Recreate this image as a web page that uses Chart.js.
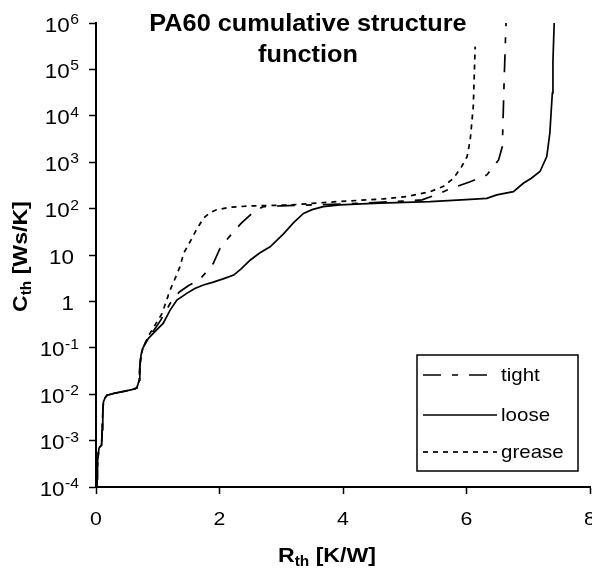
<!DOCTYPE html>
<html><head><meta charset="utf-8">
<script src="https://cdn.jsdelivr.net/npm/chart.js@4.4.0/dist/chart.umd.min.js"></script>
<style>html,body{margin:0;padding:0;background:#fff}#wrap{width:592px;height:569px;position:relative}</style>
</head><body><div id="wrap"><canvas id="c"></canvas></div>
<script>
const titleLines = ['PA60 cumulative structure', 'function'];
const xTitle = ['R', 'th', ' [K/W]'];
const yTitle = ['C', 'th', ' [Ws/K]'];
const xTickValues = [0, 2, 4, 6, 8];
const xTickLabels = ['0', '2', '4', '6', '8'];
const yTickValues = [1e-4, 1e-3, 1e-2, 1e-1, 1, 10, 100, 1e3, 1e4, 1e5, 1e6];
const yTickLabels = ['10^-4', '10^-3', '10^-2', '10^-1', '1', '10', '10^2', '10^3', '10^4', '10^5', '10^6'];
const seriesNames = ['tight', 'loose', 'grease'];

const tightR = [0.01,0.02,0.02,0.03,0.04,0.05,0.09,0.10,0.11,0.12,0.15,0.18,0.30,0.45,0.58,0.66,0.70,0.71,0.73,0.76,0.85,0.95,1.05,1.20,1.35,1.50,1.60,1.69,1.80,1.90,2.01,2.10,2.23,2.35,2.50,2.60,2.71,3.00,3.50,4.00,4.50,5.00,5.28,5.42,5.57,5.73,6.06,6.33,6.52,6.58,6.61,6.64];
const tightC = [1e-4,1.5e-4,2.5e-4,3.5e-4,5.6e-4,7e-4,8e-4,1.7e-3,4e-3,6.8e-3,8.5e-3,9.5e-3,0.0105,0.0115,0.0125,0.0135,0.02,0.04,0.07,0.1,0.17,0.25,0.4,0.9,1.6,2.2,2.6,3.1,4.5,6.6,14,20,32,48,73,94,110,115,120,125,135,145,154,180,215,265,380,532,1120,2170,6e4,1e6];

const looseR = [0.01,0.02,0.02,0.03,0.04,0.05,0.09,0.10,0.11,0.12,0.15,0.18,0.30,0.45,0.58,0.66,0.70,0.71,0.73,0.76,0.85,0.95,1.09,1.20,1.31,1.47,1.60,1.74,1.90,2.07,2.23,2.35,2.50,2.65,2.82,3.04,3.20,3.36,3.50,3.68,3.95,4.30,4.60,5.00,5.41,5.92,6.33,6.49,6.76,6.92,7.05,7.19,7.30,7.35,7.39,7.40,7.42];
const looseC = [1e-4,1.5e-4,2.5e-4,3.5e-4,5.6e-4,7e-4,8e-4,1.7e-3,4e-3,6.8e-3,8.5e-3,9.5e-3,0.0105,0.0115,0.0125,0.0135,0.02,0.04,0.07,0.1,0.16,0.22,0.34,0.65,1.07,1.49,1.9,2.25,2.6,3.1,3.7,5,7.8,11,15,29,50,79,95,110,120,126,131,136,141,154,166,197,232,352,450,630,1320,4300,31000,150000,1e6];

const greaseR = [0.01,0.02,0.02,0.03,0.04,0.05,0.09,0.10,0.11,0.12,0.15,0.18,0.30,0.45,0.58,0.66,0.70,0.71,0.73,0.76,0.85,0.95,1.07,1.20,1.28,1.36,1.42,1.53,1.61,1.74,1.84,1.95,2.17,2.50,3.14,3.90,4.65,5.03,5.41,5.62,5.79,5.92,6.01,6.06,6.11,6.14];
const greaseC = [1e-4,1.5e-4,2.5e-4,3.5e-4,5.6e-4,7e-4,8e-4,1.7e-3,4e-3,6.8e-3,8.5e-3,9.5e-3,0.0105,0.0115,0.0125,0.0135,0.02,0.04,0.07,0.1,0.18,0.3,0.55,1.76,3.1,5.6,10.9,20,32,62,80,94,107,114,120,141,162,181,232,298,450,800,1320,3000,16000,310000];

const FAM = "'Liberation Sans', Arial, sans-serif";
function pts(R, C) { return R.map((r, i) => ({x: r, y: C[i]})); }

function sText(ctx, text, x, y, font, align, sx) {
  ctx.save();
  ctx.font = font; ctx.textAlign = align; ctx.textBaseline = 'alphabetic';
  ctx.fillStyle = '#000';
  ctx.translate(x, y); ctx.scale(sx, 1);
  ctx.fillText(text, 0, 0);
  ctx.restore();
}
function sWidth(ctx, text, font, sx) { ctx.save(); ctx.font = font; const w = ctx.measureText(text).width * sx; ctx.restore(); return w; }

function drawSubTitle(ctx, parts, fontMain, fontSub, sx, subDrop) {
  let x = 0;
  sText(ctx, parts[0], x, 0, fontMain, 'left', sx); x += sWidth(ctx, parts[0], fontMain, sx);
  sText(ctx, parts[1], x, subDrop, fontSub, 'left', sx); x += sWidth(ctx, parts[1], fontSub, sx);
  sText(ctx, parts[2], x, 0, fontMain, 'left', sx);
}

const textPlugin = {
  id: 'texts',
  afterDraw(chart) {
    const ctx = chart.ctx;
    const xs = chart.scales.x, ys = chart.scales.y;
    sText(ctx, titleLines[0], 308, 31, 'bold 23px ' + FAM, 'center', 1.1);
    sText(ctx, titleLines[1], 308, 62, 'bold 23px ' + FAM, 'center', 1.1);
    xTickValues.forEach((v, i) => {
      sText(ctx, xTickLabels[i], xs.getPixelForValue(v), 525, '19px ' + FAM, 'center', 1.12);
    });
    const fMain = '20px ' + FAM, fExp = '14px ' + FAM;
    yTickValues.forEach((v, i) => {
      const py = ys.getPixelForValue(v);
      const lab = yTickLabels[i];
      if (lab.indexOf('^') >= 0) {
        const [b, e] = lab.split('^');
        const we = sWidth(ctx, e, fExp, 1.12);
        sText(ctx, e, 79, py + 1, fExp, 'right', 1.12);
        sText(ctx, b, 79 - we - 0.5, py + 8.5, fMain, 'right', 1.12);
      } else {
        sText(ctx, lab, 74, py + 8.5, fMain, 'right', 1.12);
      }
    });
    ctx.save(); ctx.translate(278, 561.5);
    drawSubTitle(ctx, xTitle, 'bold 21px ' + FAM, 'bold 14px ' + FAM, 1.1, 4);
    ctx.restore();
    ctx.save(); ctx.translate(26.5, 312); ctx.rotate(-Math.PI / 2);
    drawSubTitle(ctx, yTitle, 'bold 21px ' + FAM, 'bold 14px ' + FAM, 1.1, 4);
    ctx.restore();
    const bx = 417, by = 355, bw = 161, bh = 116;
    ctx.save();
    ctx.lineWidth = 1.5; ctx.strokeStyle = '#000';
    ctx.strokeRect(bx, by, bw, bh);
    const ly = [375, 415, 452];
    chart.data.datasets.forEach((ds, i) => {
      ctx.save();
      ctx.strokeStyle = ds.borderColor; ctx.lineWidth = ds.borderWidth;
      ctx.setLineDash(ds.borderDash || []);
      ctx.beginPath(); ctx.moveTo(423, ly[i]); ctx.lineTo(497, ly[i]); ctx.stroke();
      ctx.restore();
      sText(ctx, ds.label, 501, ly[i] + 6, '19px ' + FAM, 'left', 1.08);
    });
    ctx.restore();
  }
};

const dashes = [[18, 11, 6, 11], [], [5, 5]];
const series = [pts(tightR, tightC), pts(looseR, looseC), pts(greaseR, greaseC)];

new Chart(document.getElementById('c'), {
  type: 'scatter',
  data: {
    datasets: seriesNames.map((n, i) => ({
      label: n, data: series[i], showLine: true, pointRadius: 0,
      borderColor: '#000', backgroundColor: '#000', borderWidth: 1.7, borderDash: dashes[i],
      tension: 0, fill: false
    }))
  },
  options: {
    responsive: true, maintainAspectRatio: false, animation: false,
    layout: { padding: { top: 23, right: 2, left: 0, bottom: 0 } },
    plugins: { legend: { display: false }, title: { display: false }, tooltip: { enabled: false } },
    scales: {
      x: {
        type: 'linear', min: 0, max: 8,
        ticks: { display: false, stepSize: 2 },
        afterBuildTicks: s => { s.ticks = xTickValues.map(v => ({ value: v })); },
        grid: { display: true, drawOnChartArea: false, drawTicks: true, tickLength: 7, tickWidth: 1.5, tickColor: '#000' },
        border: { display: true, color: '#000', width: 2 },
        afterFit: s => { s.height = 82; s.paddingLeft = 0; s.paddingRight = 0; }
      },
      y: {
        type: 'logarithmic', min: 1e-4, max: 1e6,
        ticks: { display: false },
        afterBuildTicks: s => { s.ticks = yTickValues.map(v => ({ value: v })); },
        grid: { display: true, drawOnChartArea: false, drawTicks: true, tickLength: 7, tickWidth: 1.5, tickColor: '#000' },
        border: { display: true, color: '#000', width: 2 },
        afterFit: s => { s.width = 96; s.paddingTop = 0; s.paddingBottom = 0; }
      }
    }
  },
  plugins: [textPlugin]
});
</script>
</body></html>
